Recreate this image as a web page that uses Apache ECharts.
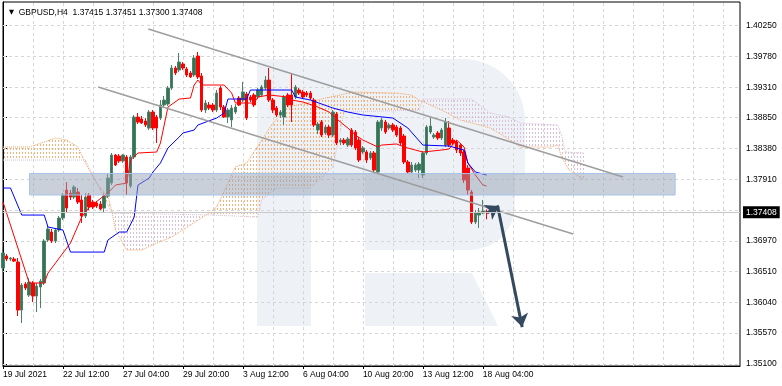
<!DOCTYPE html>
<html><head><meta charset="utf-8">
<script src="https://cdn.jsdelivr.net/npm/echarts@6/dist/echarts.min.js"></script>
<style>html,body{margin:0;padding:0;background:#fff}#c{width:782px;height:386px}</style>
</head><body><div id="c"></div>
<script>
// ---------------- data ----------------
const symbolName = 'GBPUSD,H4';
const lastOHLC = [1.37415, 1.37451, 1.37300, 1.37408];
const currentPrice = 1.37408;

const xTickBars = [0, 16, 32, 48, 64, 80, 96, 112, 128];
const xTickLabels = ['19 Jul 2021', '22 Jul 12:00', '27 Jul 04:00', '29 Jul 20:00', '3 Aug 12:00',
  '6 Aug 04:00', '10 Aug 20:00', '13 Aug 12:00', '18 Aug 04:00'];
const xGridBars = [8, 16, 24, 32, 40, 48, 56, 64, 72, 80, 88, 96, 104, 112, 120, 128, 136, 144, 152, 160, 168, 176, 184, 192];
const yTickValues = [1.40250, 1.39780, 1.39310, 1.38850, 1.38380, 1.37910, 1.36970, 1.36510, 1.36040, 1.35570, 1.35100];
const yGridValues = [1.40250, 1.39780, 1.39310, 1.38850, 1.38380, 1.37910, 1.37440, 1.36970, 1.36510, 1.36040, 1.35570, 1.35100];

// H4 candles: [open, close, low, high]
const candles = [
[1.36559,1.36787,1.36498,1.36848],[1.36742,1.36696,1.36665,1.36772],[1.36696,1.36711,1.36665,1.36726],[1.36696,1.36665,1.36650,1.36726],
[1.36650,1.35920,1.35829,1.36711],[1.35920,1.36300,1.35722,1.36331],[1.36316,1.36255,1.36224,1.36346],[1.36148,1.36346,1.36118,1.36407],
[1.36331,1.36133,1.36042,1.36361],[1.36133,1.36285,1.35890,1.36331],[1.36270,1.36361,1.35950,1.36392],[1.36331,1.36970,1.36300,1.37000],
[1.36985,1.37152,1.36955,1.37198],[1.37107,1.36970,1.36939,1.37152],[1.36970,1.37137,1.36939,1.37168],[1.37137,1.37320,1.37107,1.37350],
[1.37320,1.37670,1.37289,1.37700],[1.37746,1.37472,1.37411,1.37867],[1.37700,1.37639,1.37594,1.37746],[1.37639,1.37791,1.37609,1.37822],
[1.37715,1.37563,1.37533,1.37776],[1.37594,1.37350,1.37244,1.37670],[1.37350,1.37639,1.37320,1.37700],[1.37670,1.37487,1.37441,1.37700],
[1.37563,1.37487,1.37457,1.37594],[1.37548,1.37502,1.37472,1.37578],[1.37533,1.37457,1.37441,1.37578],[1.37472,1.37654,1.37396,1.37685],
[1.37654,1.37928,1.37624,1.38004],[1.37852,1.38278,1.37822,1.38309],[1.38278,1.38126,1.38111,1.38293],[1.38263,1.38187,1.38157,1.38293],
[1.38187,1.38278,1.38157,1.38293],[1.38248,1.37852,1.37670,1.38278],[1.37807,1.38248,1.37776,1.38278],[1.38248,1.38856,1.38217,1.38887],
[1.38856,1.38780,1.38750,1.38917],[1.38826,1.38765,1.38750,1.38872],[1.38795,1.38735,1.38704,1.38841],[1.38689,1.38932,1.38659,1.38963],
[1.38932,1.38689,1.38659,1.38963],[1.38856,1.38689,1.38461,1.38887],[1.38841,1.39039,1.38811,1.39115],[1.39039,1.39115,1.39008,1.39176],
[1.39054,1.39297,1.39024,1.39328],[1.39297,1.39602,1.39267,1.39647],[1.39602,1.39526,1.39495,1.39632],[1.39571,1.39693,1.39541,1.39830],
[1.39663,1.39602,1.39571,1.39693],[1.39587,1.39495,1.39465,1.39617],[1.39526,1.39465,1.39450,1.39556],[1.39495,1.39754,1.39465,1.39799],
[1.39784,1.39465,1.39434,1.39845],[1.39480,1.38963,1.38932,1.39526],[1.38963,1.39069,1.38917,1.39115],[1.39039,1.38993,1.38963,1.39085],
[1.39039,1.38963,1.38932,1.39069],[1.38963,1.39221,1.38932,1.39267],[1.39297,1.39008,1.38963,1.39328],[1.39008,1.38856,1.38841,1.39039],
[1.38856,1.38963,1.38765,1.38993],[1.38811,1.38993,1.38704,1.39039],[1.38932,1.39008,1.38902,1.39054],[1.39145,1.39039,1.39024,1.39176],
[1.39115,1.39237,1.39085,1.39389],[1.39206,1.38841,1.38811,1.39237],[1.39161,1.39115,1.39085,1.39191],[1.39191,1.39039,1.39008,1.39221],
[1.39161,1.39267,1.39130,1.39297],[1.39191,1.39313,1.39161,1.39343],[1.39297,1.39419,1.39267,1.39480],[1.39419,1.39115,1.39085,1.39602],
[1.39115,1.38963,1.38917,1.39145],[1.38993,1.38887,1.38856,1.39024],[1.38887,1.38932,1.38841,1.38963],[1.38856,1.39161,1.38735,1.39191],
[1.39191,1.39039,1.39008,1.39221],[1.39191,1.39039,1.38780,1.39526],[1.39161,1.39313,1.39130,1.39343],[1.39267,1.39221,1.39191,1.39297],
[1.39237,1.39161,1.39130,1.39267],[1.39221,1.39191,1.39161,1.39252],[1.39221,1.39145,1.39115,1.39252],[1.39115,1.38735,1.38704,1.39145],
[1.38659,1.38750,1.38598,1.38780],[1.38780,1.38582,1.38552,1.38811],[1.38613,1.38704,1.38582,1.38735],[1.38704,1.38582,1.38537,1.38735],
[1.38582,1.38932,1.38552,1.38963],[1.38902,1.38461,1.38430,1.38932],[1.38476,1.38506,1.38430,1.38537],[1.38506,1.38461,1.38430,1.38537],
[1.38430,1.38522,1.38400,1.38552],[1.38659,1.38430,1.38400,1.38689],[1.38628,1.38385,1.38354,1.38659],[1.38506,1.38202,1.38172,1.38552],
[1.38324,1.38385,1.38293,1.38415],[1.38324,1.38202,1.38157,1.38354],[1.38233,1.38309,1.38202,1.38339],[1.38309,1.38050,1.38020,1.38339],
[1.38020,1.38780,1.37989,1.38811],[1.38689,1.38811,1.38643,1.38841],[1.38780,1.38628,1.38598,1.38811],[1.38689,1.38735,1.38659,1.38765],
[1.38735,1.38659,1.38628,1.38765],[1.38704,1.38582,1.38552,1.38735],[1.38689,1.38461,1.38430,1.38719],[1.38567,1.38172,1.38141,1.38598],
[1.38172,1.38020,1.37989,1.38202],[1.38020,1.38126,1.37989,1.38172],[1.38050,1.38126,1.38020,1.38157],[1.38050,1.38141,1.37928,1.38172],
[1.37974,1.38309,1.37928,1.38339],[1.38309,1.38704,1.38278,1.38735],[1.38628,1.38719,1.38598,1.38841],[1.38552,1.38582,1.38522,1.38613],
[1.38613,1.38537,1.38506,1.38643],[1.38537,1.38659,1.38506,1.38689],[1.38430,1.38780,1.38400,1.38841],[1.38689,1.38430,1.38400,1.38795],
[1.38506,1.38461,1.38430,1.38537],[1.38476,1.38354,1.38309,1.38506],[1.38430,1.38309,1.38263,1.38461],[1.38324,1.37898,1.37852,1.38354],
[1.38080,1.37746,1.37670,1.38126],[1.37715,1.37259,1.37228,1.37746],[1.37259,1.37396,1.37228,1.37441],[1.37365,1.37411,1.37168,1.37472],
[1.37396,1.37426,1.37381,1.37594],[1.37415,1.37408,1.37300,1.37451]
];

// Ichimoku lines, [bar, price] break points
const tenkan = [[0,1.37563],[7,1.36331],[11,1.36331],[12,1.36483],[18,1.36939],[21,1.37335],[23,1.37487],[28,1.37700],[30,1.37822],[33,1.37852],[34,1.38202],[36,1.38309],[41,1.38324],[42,1.38461],[44,1.39008],[47,1.39130],[50,1.39145],[51,1.39343],[52,1.39419],[53,1.39343],[59,1.39343],[61,1.39221],[62,1.39069],[67,1.39069],[68,1.39161],[71,1.39191],[76,1.39161],[77,1.39115],[80,1.39085],[84,1.39008],[87,1.38932],[90,1.38780],[92,1.38689],[94,1.38582],[96,1.38506],[100,1.38400],[101,1.38430],[105,1.38446],[107,1.38400],[110,1.38354],[112,1.38324],[117,1.38354],[119,1.38370],[121,1.38506],[123,1.38400],[124,1.38157],[126,1.37974],[128,1.37822],[129,1.37807]];
const kijun = [[0,1.37776],[2,1.37776],[5,1.37365],[11,1.37365],[12,1.37183],[16,1.37137],[18,1.36802],[27,1.36802],[28,1.36985],[31,1.37107],[33,1.37107],[35,1.37335],[36,1.37822],[39,1.37928],[40,1.38020],[42,1.38157],[44,1.38385],[47,1.38552],[48,1.38613],[51,1.38659],[52,1.38735],[57,1.38841],[59,1.38917],[60,1.39130],[65,1.39130],[66,1.39267],[77,1.39267],[78,1.39161],[82,1.39115],[88,1.38993],[92,1.38932],[96,1.38887],[104,1.38841],[108,1.38689],[112,1.38430],[119,1.38415],[123,1.38354],[124,1.38157],[126,1.38020],[129,1.37974]];
const spanA = [[0,1.38400],[7,1.38400],[11,1.38476],[14,1.38537],[17,1.38506],[20,1.38400],[22,1.38157],[25,1.37852],[28,1.37639],[29,1.37441],[30,1.37137],[31,1.37031],[33,1.36833],[37,1.36833],[41,1.36939],[45,1.37031],[50,1.37213],[55,1.37396],[57,1.37487],[60,1.37852],[62,1.38096],[65,1.38157],[69,1.38506],[72,1.38765],[76,1.39008],[82,1.39085],[86,1.39145],[90,1.39191],[93,1.39237],[105,1.39221],[109,1.39191],[111,1.39115],[117,1.38963],[122,1.38811],[130,1.38689],[134,1.38552],[138,1.38400],[146,1.38400],[148,1.38430],[149,1.38248],[151,1.38050],[155,1.37898]];
const spanB = [[0,1.38202],[22,1.38202],[29,1.37396],[56,1.37365],[68,1.37335],[69,1.37594],[73,1.37776],[82,1.37776],[88,1.38096],[91,1.38932],[111,1.38963],[112,1.39130],[125,1.39130],[130,1.38917],[135,1.38856],[138,1.38765],[148,1.38735],[149,1.38582],[150,1.38324],[155,1.38309]];

// drawn objects, [bar, price]
const upperChannel = [[38.75,1.40195],[165.4,1.37944]];
const lowerChannel = [[25.4,1.39313],[152.1,1.37076]];
const zone = [[7.1,1.37996],[179.3,1.37670]];
const arrowShort = [[129.1,1.37396],[132.3,1.37502]];
const arrowLong = [[132.0,1.37487],[138.5,1.35661]];

// ---------------- chart ----------------
const FONT = 'Liberation Sans';
function hatch(color){
  const c = document.createElement('canvas'); c.width = 3; c.height = 4;
  const g = c.getContext('2d'); g.fillStyle = color; g.fillRect(1,0,1,2);
  return {image: c, repeat: 'repeat'};
}
const patA = hatch('rgba(244,164,96,0.85)');
const patB = hatch('#d8bfd8');

function cloudRender(params, api){
  if (params.dataIndex !== 0) return null;
  const pa = spanA.map(d => api.coord(d));
  const pb = spanB.map(d => api.coord(d));
  const interp = (poly, x) => {
    for (let k = 0; k < poly.length - 1; k++){
      const p = poly[k], q = poly[k+1];
      if (x >= p[0] - 1e-6 && x <= q[0] + 1e-6){
        const t = (q[0] - p[0]) ? (x - p[0]) / (q[0] - p[0]) : 0;
        return p[1] + t * (q[1] - p[1]);
      }
    }
    return poly[poly.length-1][1];
  };
  let xs = pa.map(p => p[0]).concat(pb.map(p => p[0])).sort((a,b) => a - b);
  xs = xs.filter((x,i) => i === 0 || x - xs[i-1] > 1e-6);
  const children = [];
  let runA = [], runB = [], runUp = null;
  const flush = () => {
    if (runA.length > 1) children.push({type:'polygon', silent:true,
      shape:{points: runA.concat(runB.slice().reverse())},
      style:{fill: runUp ? patA : patB}});
  };
  for (let k = 0; k < xs.length; k++){
    const x = xs[k], ya = interp(pa, x), yb = interp(pb, x);
    const up = ya <= yb;
    if (k === 0){ runUp = up; runA = [[x,ya]]; runB = [[x,yb]]; continue; }
    if (up !== runUp && Math.abs(ya - yb) > 1e-9){
      const px = xs[k-1], pya = interp(pa, px), pyb = interp(pb, px);
      const d0 = pya - pyb, d1 = ya - yb;
      const t = (d0 - d1) ? d0 / (d0 - d1) : 0;
      const cx = px + t * (x - px), cy = pya + t * (ya - pya);
      runA.push([cx,cy]); runB.push([cx,cy]); flush();
      runUp = up; runA = [[cx,cy]]; runB = [[cx,cy]];
    }
    runA.push([x,ya]); runB.push([x,yb]);
  }
  flush();
  return {type:'group', children};
}

const WM = '#eef2f7';
const chart = echarts.init(document.getElementById('c'), null, {renderer:'canvas'});
chart.setOption({
  animation: false,
  backgroundColor: '#ffffff',
  title: {
    left: 4, top: 3,
    text: '{t|▼}  ' + symbolName + '  ' + lastOHLC.map(v => v.toFixed(5)).join(' '),
    textStyle: {fontSize: 8.5, fontWeight: 'normal', color: '#000', fontFamily: FONT,
      rich: {t: {fontSize: 6.5, fontFamily: 'DejaVu Sans', color: '#000'}}}
  },
  graphic: [
    {type:'rect', silent:true, z:0, shape:{x:257, y:59, width:54, height:267}, style:{fill:WM}},
    {type:'rect', silent:true, z:0, shape:{x:257, y:59, width:268, height:116, r:[0,62,0,0]}, style:{fill:WM}},
    {type:'rect', silent:true, z:0, shape:{x:365, y:175, width:150, height:75, r:[0,0,45,0]}, style:{fill:WM}},
    {type:'polygon', silent:true, z:0, shape:{points:[[365,273],[472,273],[498,326],[365,326]]}, style:{fill:WM}}
  ],
  grid: {left: 2.7, right: 42, top: 2, bottom: 20, show: true, borderColor: '#000', borderWidth: 1, backgroundColor: 'transparent'},
  xAxis: {
    type: 'value', min: 0, max: 196.6,
    axisLine: {show: true, lineStyle: {color: '#000', width: 1}},
    splitLine: {show: false},
    axisTick: {show: true, customValues: xTickBars, length: 3, lineStyle: {color: '#000'}},
    axisLabel: {show: true, customValues: xTickBars, align: 'left', margin: 4,
      fontSize: 8.5, fontFamily: FONT, color: '#000',
      formatter: v => xTickLabels[xTickBars.indexOf(Math.round(v))] || ''}
  },
  yAxis: {
    type: 'value', position: 'right', min: 1.35069, max: 1.40606, scale: true,
    axisLine: {show: true, lineStyle: {color: '#000', width: 1}},
    splitLine: {show: false},
    axisTick: {show: true, customValues: yTickValues, length: 4, lineStyle: {color: '#000'}},
    axisLabel: {show: true, customValues: yTickValues, margin: 6, fontSize: 8.5, fontFamily: FONT, color: '#000',
      formatter: v => v.toFixed(5)}
  },
  series: [
    { // grid lines
      type: 'line', data: [], silent: true, z: 1,
      markLine: {silent: true, z: 1, precision: 6, symbol: ['none','none'], label: {show: false},
        lineStyle: {type: [3,3], color: '#d6d6d6', width: 1},
        data: yGridValues.map(v => ({yAxis: v})).concat(xGridBars.map(b => ({xAxis: b})))}
    },
    { // Ichimoku cloud hatch
      type: 'custom', coordinateSystem: 'cartesian2d', z: 1, silent: true,
      data: [[0, spanA[0][1]]], encode: {x: 0, y: 1},
      renderItem: cloudRender
    },
    {type:'line', name:'Senkou Span A', data: spanA, symbol:'none', z: 2, silent:true,
      lineStyle:{color:'#f4a460', width:1, type:'dotted'}},
    {type:'line', name:'Senkou Span B', data: spanB, symbol:'none', z: 2, silent:true,
      lineStyle:{color:'#d8bfd8', width:1, type:'dotted'}},
    { // current price line
      type: 'line', data: [], silent: true, z: 2,
      markLine: {silent: true, z: 8, precision: 6, symbol: ['none','none'],
        lineStyle: {type: 'solid', color: '#c8c8c8', width: 1},
        label: {show: true, position: 'end', distance: 3, formatter: () => currentPrice.toFixed(5),
          backgroundColor: '#000', color: '#fff', fontSize: 8.5, fontFamily: FONT, padding: [2,3,1,3]},
        data: [{yAxis: currentPrice}]}
    },
    {
      type: 'candlestick', name: symbolName, z: 3,
      data: candles.map((c, i) => [i, c[0], c[1], c[2], c[3]]),
      encode: {x: 0, y: [1,2,3,4]},
      barWidth: 3,
      itemStyle: {color: '#2f7652', color0: '#ff0000', borderColor: '#50806a', borderColor0: '#ff0000', borderWidth: 1}
    },
    {type:'line', name:'Tenkan-sen', data: tenkan, symbol:'none', z: 4, silent:true,
      lineStyle:{color:'#ff0000', width:1}},
    {type:'line', name:'Kijun-sen', data: kijun, symbol:'none', z: 4, silent:true,
      lineStyle:{color:'#0000ff', width:1}},
    { // support zone, channel lines and arrows
      type: 'line', data: [], silent: true, z: 6,
      markArea: {silent: true, z: 6,
        itemStyle: {color: 'rgba(147,161,179,0.5)', borderColor: '#a6c3ea', borderWidth: 1},
        data: [[{coord: zone[0]}, {coord: zone[1]}]]},
      markLine: {silent: true, z: 7, symbol: ['none','none'], label: {show: false},
        data: [
          [{coord: upperChannel[0], lineStyle:{color:'#9e9e9e', width:1.5, type:'solid'}}, {coord: upperChannel[1]}],
          [{coord: lowerChannel[0], lineStyle:{color:'#9e9e9e', width:1.5, type:'solid'}}, {coord: lowerChannel[1]}],
          [{coord: arrowShort[0], symbol:'none', lineStyle:{color:'#34495e', width:3, type:'solid'}},
           {coord: arrowShort[1], symbol:'arrow', symbolSize: 13}],
          [{coord: arrowLong[0], symbol:'none', lineStyle:{color:'#34495e', width:3, type:'solid'}},
           {coord: arrowLong[1], symbol:'arrow', symbolSize: 13}]
        ]}
    }
  ]
});
</script></body></html>
